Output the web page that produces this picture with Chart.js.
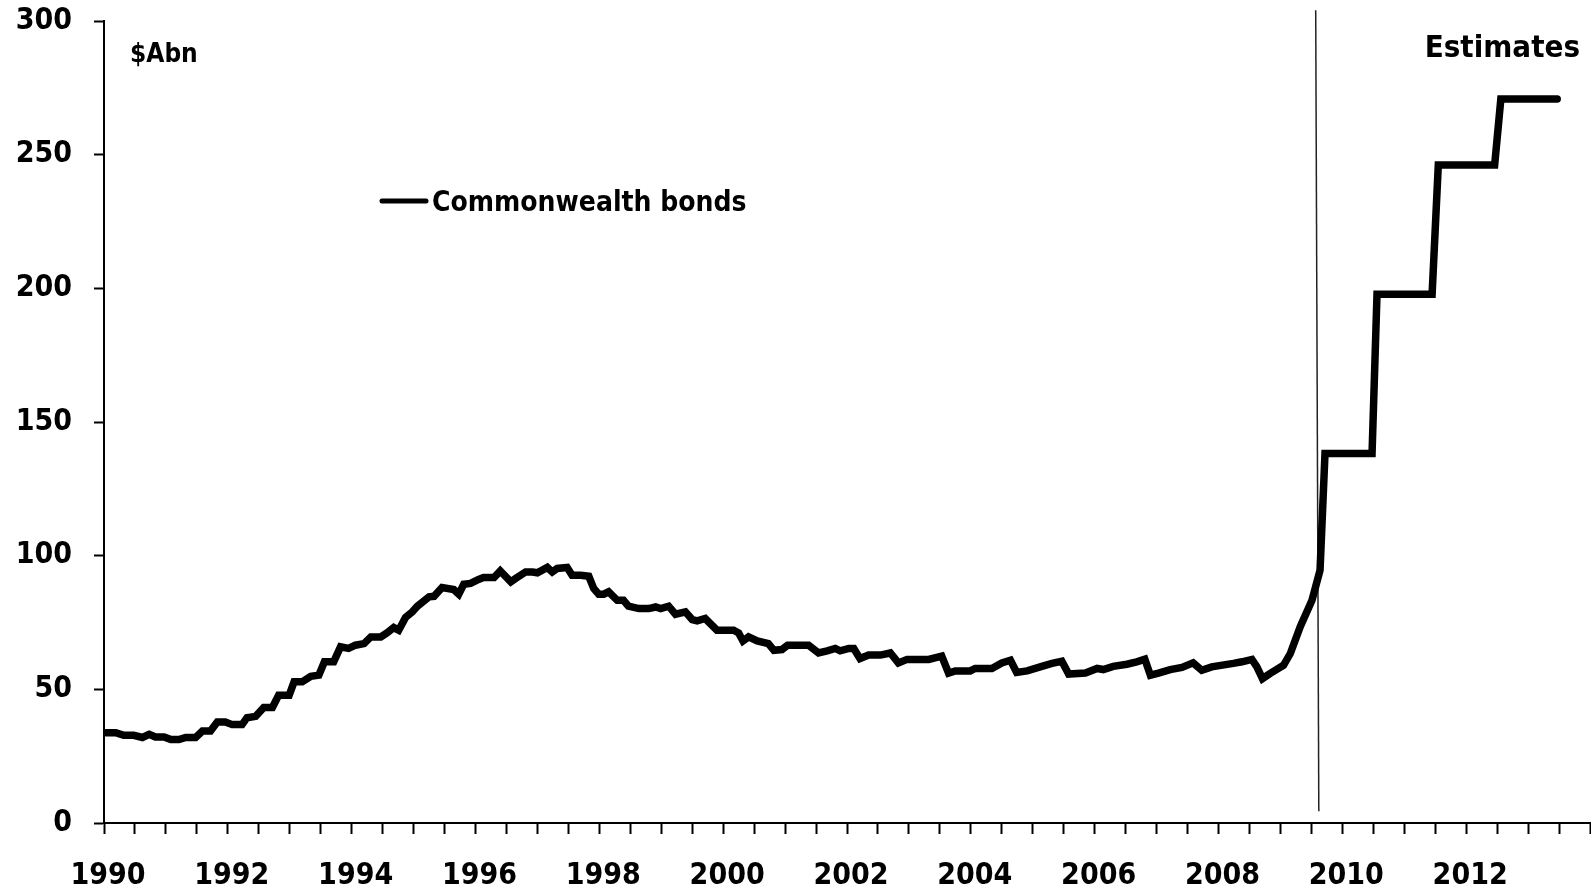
<!DOCTYPE html>
<html>
<head>
<meta charset="utf-8">
<title>Commonwealth bonds on issue</title>
<script src="https://cdn.jsdelivr.net/npm/chart.js@4.4.1/dist/chart.umd.min.js"></script>
<style>
  html, body { margin: 0; padding: 0; background: #fff; overflow: hidden; }
  #wrap { position: relative; width: 1591px; height: 890px; }
  #wrap canvas { display: block; }
</style>
</head>
<body>
<div id="wrap"><canvas id="bondsChart"></canvas></div>
<script>
// Commonwealth bonds outstanding, $A billion, by date (decimal years)
const dates = [
  1990.03, 1990.19, 1990.32, 1990.48, 1990.62, 1990.73, 1990.83, 1990.97,
  1991.08, 1991.21, 1991.32, 1991.48, 1991.59, 1991.72, 1991.83, 1991.96,
  1992.07, 1992.23, 1992.31, 1992.45, 1992.58, 1992.72, 1992.82, 1992.99,
  1993.07, 1993.20, 1993.34, 1993.47, 1993.56, 1993.71, 1993.82, 1993.95,
  1994.06, 1994.20, 1994.31, 1994.47, 1994.57, 1994.68, 1994.76, 1994.87,
  1994.98, 1995.06, 1995.25, 1995.33, 1995.46, 1995.65, 1995.73, 1995.81,
  1995.92, 1996.05, 1996.13, 1996.30, 1996.40, 1996.57, 1996.65, 1996.81,
  1996.92, 1997.00, 1997.16, 1997.24, 1997.32, 1997.48, 1997.56, 1997.70,
  1997.83, 1997.91, 1997.99, 1998.07, 1998.15, 1998.29, 1998.39, 1998.47,
  1998.64, 1998.80, 1998.91, 1998.99, 1999.12, 1999.23, 1999.39, 1999.50,
  1999.58, 1999.71, 1999.90, 2000.17, 2000.25, 2000.32, 2000.41, 2000.55,
  2000.73, 2000.82, 2000.95, 2001.04, 2001.38, 2001.54, 2001.68, 2001.81,
  2001.89, 2002.03, 2002.11, 2002.21, 2002.35, 2002.54, 2002.70, 2002.83,
  2002.97, 2003.32, 2003.53, 2003.64, 2003.75, 2003.99, 2004.07, 2004.34,
  2004.50, 2004.64, 2004.74, 2004.91, 2005.12, 2005.31, 2005.47, 2005.58,
  2005.85, 2006.04, 2006.14, 2006.30, 2006.52, 2006.68, 2006.81, 2006.90,
  2007.03, 2007.22, 2007.41, 2007.59, 2007.73, 2007.89, 2008.24, 2008.38,
  2008.54, 2008.62, 2008.71, 2008.83, 2009.05, 2009.16, 2009.32, 2009.51,
  2009.64, 2009.72, 2010.48, 2010.56, 2011.45, 2011.55, 2012.46, 2012.56,
  2013.47
];
const bonds = [
  33.8, 33.8, 32.8, 32.8, 32.0, 33.2, 32.2, 32.2,
  31.2, 31.2, 32.0, 32.0, 34.4, 34.4, 37.8, 37.8,
  36.8, 36.8, 39.4, 39.9, 43.2, 43.2, 47.8, 47.8,
  52.8, 52.8, 54.9, 55.3, 60.3, 60.3, 65.9, 65.3,
  66.5, 67.1, 69.6, 69.6, 71.1, 73.1, 72.1, 76.9,
  79.0, 81.1, 84.6, 84.8, 88.1, 87.3, 85.6, 89.3,
  89.6, 91.1, 91.8, 91.8, 94.3, 90.2, 91.5, 93.9,
  93.9, 93.6, 95.6, 93.9, 95.2, 95.6, 92.7, 92.7,
  92.3, 87.7, 85.6, 85.6, 86.5, 83.3, 83.3, 81.1,
  80.2, 80.2, 80.8, 80.2, 81.1, 78.1, 79.0, 76.1,
  75.6, 76.5, 72.1, 72.1, 71.1, 68.1, 69.6, 68.1,
  67.1, 64.6, 64.9, 66.5, 66.5, 63.6, 64.4, 65.3,
  64.4, 65.3, 65.3, 61.5, 62.8, 62.8, 63.6, 59.9,
  61.2, 61.2, 62.4, 56.1, 56.9, 56.9, 57.8, 57.8,
  59.9, 60.9, 56.3, 56.9, 58.4, 59.7, 60.5, 55.7,
  56.1, 57.8, 57.4, 58.6, 59.4, 60.3, 61.3, 55.3,
  56.1, 57.4, 58.2, 59.9, 57.1, 58.4, 59.7, 60.3,
  61.2, 58.4, 54.0, 55.9, 59.0, 63.4, 73.4, 83.3,
  94.6, 138.2, 138.2, 197.8, 197.8, 246.1, 246.1, 270.8,
  270.8
];

// divider between actuals and estimates
const estimateLineX = [2009.57, 2009.62];
const estimateLineY = [304, 4.4];

const yearLabels = [1990, 1992, 1994, 1996, 1998, 2000, 2002, 2004, 2006, 2008, 2010, 2012];

const FONT = "'DejaVu Sans Condensed', 'DejaVu Sans', sans-serif";

const annotations = {
  id: "annotations",
  afterDatasetsDraw(chart) {
    const { ctx, chartArea: a } = chart;
    ctx.save();
    ctx.fillStyle = "#000";
    ctx.textBaseline = "alphabetic";
    ctx.font = `bold 26px ${FONT}`;
    ctx.textAlign = "left";
    ctx.fillText("$Abn", a.left + 26, a.top + 41);

    ctx.font = `bold 31px ${FONT}`;
    ctx.textAlign = "right";
    ctx.fillText("Estimates", a.right - 10, a.top + 36);

    // legend entry
    ctx.strokeStyle = "#000";
    ctx.lineWidth = 5;
    ctx.lineCap = "round";
    ctx.beginPath();
    ctx.moveTo(a.left + 278, a.top + 180);
    ctx.lineTo(a.left + 322, a.top + 180);
    ctx.stroke();
    ctx.font = `bold 28px ${FONT}`;
    ctx.textAlign = "left";
    ctx.fillText("Commonwealth bonds", a.left + 328, a.top + 190);
    ctx.restore();
  }
};

new Chart(document.getElementById("bondsChart"), {
  type: "line",
  data: {
    datasets: [
      {
        label: "Commonwealth bonds",
        data: dates.map((x, i) => ({ x, y: bonds[i] })),
        borderColor: "#000",
        borderWidth: 7.5,
        borderJoinStyle: "miter",
        borderCapStyle: "round",
        pointRadius: 0,
        tension: 0,
        order: 1
      },
      {
        label: "estimates",
        data: estimateLineX.map((x, i) => ({ x, y: estimateLineY[i] })),
        borderColor: "#222",
        borderWidth: 1.5,
        pointRadius: 0,
        clip: false,
        order: 2
      }
    ]
  },
  options: {
    responsive: true,
    maintainAspectRatio: false,
    animation: false,
    layout: { padding: { top: 21, right: 1, left: 0, bottom: 0 } },
    plugins: { legend: { display: false }, tooltip: { enabled: false } },
    scales: {
      x: {
        type: "linear",
        min: 1990,
        max: 2014,
        // fixed axis band; labels may overhang the plot edges
        afterFit: (s) => { s.height = 67; s.paddingLeft = 0; s.paddingRight = 0; },
        border: { display: true, color: "#000", width: 2 },
        grid: { drawOnChartArea: false, drawTicks: true, tickLength: 11, tickWidth: 2, tickColor: "#000" },
        ticks: {
          stepSize: 0.5,
          autoSkip: false,
          maxRotation: 0,
          minRotation: 0,
          padding: 24,
          labelOffset: 4,
          color: "#000",
          font: { family: FONT, size: 30, weight: "bold" },
          callback: (v) => (yearLabels.includes(v) ? String(v) : "")
        }
      },
      y: {
        min: 0,
        max: 300,
        afterFit: (s) => { s.width = 104; s.paddingTop = 0; s.paddingBottom = 0; },
        border: { display: true, color: "#000", width: 2 },
        grid: { drawOnChartArea: false, drawTicks: true, tickLength: 10, tickWidth: 2, tickColor: "#000" },
        ticks: {
          stepSize: 50,
          padding: 22,
          color: "#000",
          font: { family: FONT, size: 30, weight: "bold" }
        }
      }
    }
  },
  plugins: [annotations]
});
</script>
</body>
</html>
